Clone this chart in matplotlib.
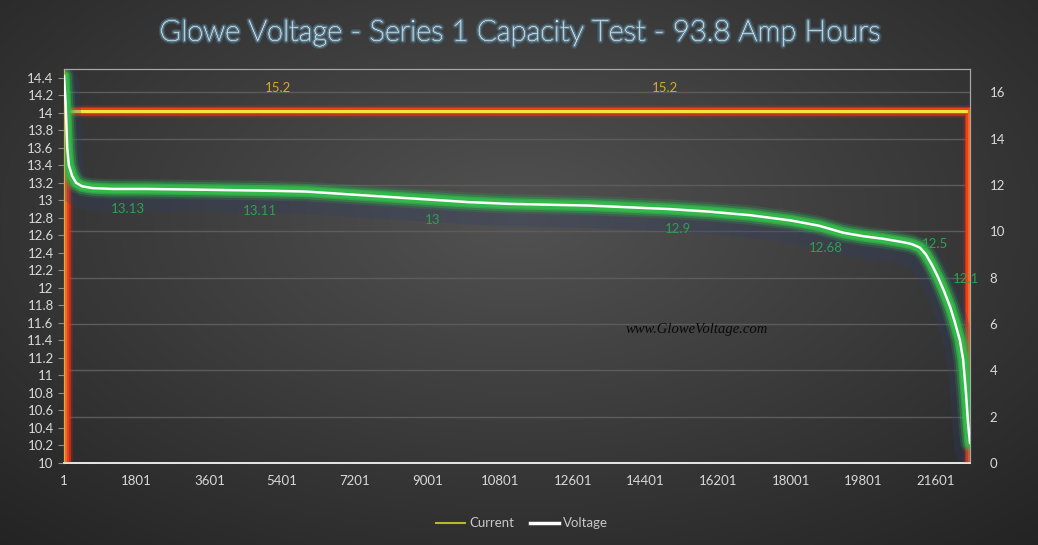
import numpy as np
import matplotlib
matplotlib.use("Agg")
import matplotlib.pyplot as plt
import matplotlib.patheffects as pe
from matplotlib.lines import Line2D

plt.rcParams['font.family'] = ['Lato', 'DejaVu Sans']

# voltage curve (sample index, volts)
volt_idx = [1, 40, 80, 120, 200, 300, 450, 700, 1200, 2000, 3600, 5000, 6000,
            7000, 8000, 9000, 10000, 11000, 12000, 13000, 14000, 15000, 16000,
            17000, 18000, 18700, 19300, 19800, 20300, 20800, 21000, 21200,
            21350, 21500, 21650, 21800, 21950, 22070, 22190, 22270, 22340,
            22392, 22440]
volt_val = [14.42, 14.1, 13.6, 13.4, 13.28, 13.2, 13.16, 13.14, 13.13, 13.13,
            13.12, 13.11, 13.10, 13.07, 13.04, 13.01, 12.98, 12.96, 12.95,
            12.94, 12.92, 12.90, 12.87, 12.83, 12.77, 12.71, 12.63, 12.59,
            12.56, 12.52, 12.50, 12.46, 12.38, 12.26, 12.12, 11.96, 11.78,
            11.60, 11.40, 11.18, 10.80, 10.45, 10.23]

# current (amps)
curr_idx = [50, 50, 22410, 22410]
curr_val = [0, 15.2, 15.2, 0]

# data labels: (index, value, placement)
volt_labels = [(1586, 13.13, 'below'), (4856, 13.11, 'below'), (9141, 13.0, 'below'),
               (15210, 12.9, 'below'), (18876, 12.68, 'below'),
               (21140, 12.5, 'right'), (21900, 12.1, 'right')]
curr_labels = [(5300, 15.2), (14890, 15.2)]

x_ticks = list(range(1, 22000, 1800))
left_ticks = np.round(np.arange(10, 14.41, 0.2), 1)
right_ticks = list(range(0, 17, 2))

fig = plt.figure(figsize=(10.38, 5.45), dpi=100)

# dark radial background
bg = fig.add_axes([0, 0, 1, 1], zorder=-10)
yy, xx = np.mgrid[0:1:300j, 0:1:500j]
r = np.sqrt(((xx - 0.5) / 0.75) ** 2 + ((yy - 0.4) / 0.8) ** 2)
shade = np.clip(0.32 - 0.18 * r, 0.13, 0.32)
bg.imshow(np.dstack([shade, shade, shade]), aspect='auto', extent=[0, 1, 0, 1], origin='upper')
bg.axis('off')

ax = fig.add_axes([0.0617, 0.1505, 0.8728, 0.7229])
ax.patch.set_alpha(0)
ax2 = ax.twinx()

# gridlines follow the right axis
ax2.set_ylim(0, 17)
ax2.set_yticks(right_ticks)
ax2.grid(axis='y', color='#5c5c5c', linewidth=1.0)
ax2.set_axisbelow(True)

# current with red glow
for lw, a, c in [(9, 0.25, '#e02a1a'), (6.5, 0.6, '#e8321c'), (4.5, 1.0, '#ee3e1c')]:
    ax2.plot(curr_idx, curr_val, color=c, lw=lw, alpha=a, solid_joinstyle='miter', zorder=3)
ax2.plot(curr_idx[1:3], curr_val[1:3], color='#f5e43c', lw=2.2, zorder=4)
ax2.plot([curr_idx[0], curr_idx[1]], curr_val[:2], color='#f56a22', lw=1.5, zorder=4)
ax2.plot(curr_idx[2:], curr_val[2:], color='#f56a22', lw=1.5, zorder=4)

for ix, v in curr_labels:
    ax2.annotate(f"{v:g}", (ix, v), xytext=(0, 12), textcoords='offset points',
                 ha='center', va='bottom', color='#d8a830', fontsize=9.5)

# voltage with green glow on the left axis, drawn above ax2
ax.set_zorder(ax2.get_zorder() + 1)
ax.plot(volt_idx, [v - 0.08 for v in volt_val], color='#2c3f6e', lw=22, alpha=0.25,
        solid_capstyle='round', zorder=1)
for lw, a in [(14, 0.18), (11, 0.35), (8, 0.7), (6, 1.0)]:
    ax.plot(volt_idx, volt_val, color='#33b84a', lw=lw, alpha=a,
            solid_capstyle='round', zorder=2)
ax.plot(volt_idx, volt_val, color='white', lw=1.8, zorder=3)

for ix, v, pos in volt_labels:
    if pos == 'below':
        ax.annotate(f"{v:g}", (ix, v), xytext=(0, -10), textcoords='offset points',
                    ha='center', va='top', color='#2fa04c', fontsize=9.5)
    else:
        ax.annotate(f"{v:g}", (ix, v), xytext=(3, 0), textcoords='offset points',
                    ha='left', va='center', color='#2fa04c', fontsize=9.5)

ax.text(0.698, 0.34, 'www.GloweVoltage.com', transform=ax.transAxes, ha='center',
        va='center', fontsize=10.5, style='italic', family='Liberation Serif', color='#0a0a0a')

ax.set_xlim(1, 22440)
ax.set_ylim(10, 14.5)
ax.set_xticks(x_ticks)
ax.set_yticks(left_ticks)
ax.set_yticklabels([f"{t:g}" for t in left_ticks])

ax.tick_params(axis='y', colors='#8a8a8a', labelcolor='#d9d9d9', labelsize=9.5,
               length=4, direction='out')
ax.tick_params(axis='x', length=0, labelcolor='#d9d9d9', labelsize=9.5, pad=9)
ax2.tick_params(axis='y', length=0, labelcolor='#d9d9d9', labelsize=9.5, pad=14)

for a_ in (ax, ax2):
    a_.spines['left'].set_color('#d4b040')
    a_.spines['bottom'].set_color('#e8e8e8')
    a_.spines['top'].set_color('#a8a8a8')
    a_.spines['right'].set_color('#a8a8a8')
    a_.spines['bottom'].set_linewidth(1.2)

fig.text(0.5, 0.94, 'Glowe Voltage - Series 1 Capacity Test - 93.8 Amp Hours',
         ha='center', va='center', fontsize=21, weight='light', color='#e4eff5',
         path_effects=[pe.withStroke(linewidth=4, foreground='#4f7f99', alpha=0.35),
                       pe.withStroke(linewidth=2, foreground='#7fa9c0', alpha=0.5),
                       pe.Normal()])

handles = [Line2D([], [], color='#b8b830', lw=1.5),
           Line2D([], [], color='white', lw=2.5)]
leg = fig.legend(handles, ['Current', 'Voltage'], loc='center', bbox_to_anchor=(0.503, 0.04),
                 ncol=2, frameon=False, fontsize=9.5, handlelength=2.2, handletextpad=0.3,
                 columnspacing=1.2, labelcolor='#c8c8c8')

fig.savefig('out.png', dpi=100)
